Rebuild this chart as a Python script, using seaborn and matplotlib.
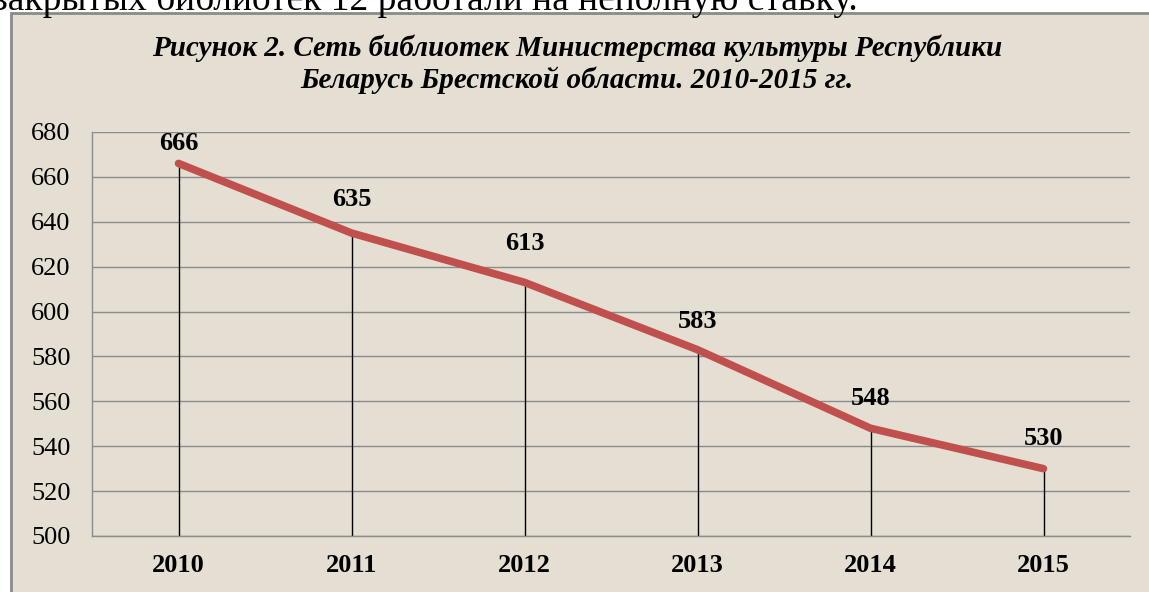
import numpy as np
import pandas as pd
import matplotlib
matplotlib.use("Agg")
import matplotlib.pyplot as plt
import seaborn as sns
from matplotlib.patches import Rectangle

# данные
years = ["2010", "2011", "2012", "2013", "2014", "2015"]
libraries = [666, 635, 613, 583, 548, 530]

title = ("Рисунок 2. Сеть библиотек Министерства культуры Республики\n"
         "Беларусь Брестской области. 2010-2015 гг.")
top_text = "закрытых библиотек 12 работали на неполную ставку."

sns.set_style("white")
plt.rcParams["font.family"] = ["Liberation Serif", "DejaVu Serif"]
plt.rcParams["text.color"] = "black"
plt.rcParams["xtick.color"] = "black"
plt.rcParams["ytick.color"] = "black"

bg = "#E5DFD3"
grid_c = "#8C8C8C"
line_c = "#C0504D"

df = pd.DataFrame({"year": years, "value": libraries})
df["pos"] = np.arange(len(df))

fig = plt.figure(figsize=(11.49, 5.92), dpi=100, facecolor="white")

# рамка диаграммы
frame = Rectangle((11 / 1149, -0.05), 1.1, 1 - 13 / 592 + 0.05,
                  transform=fig.transFigure, facecolor=bg,
                  edgecolor="#8A8A8A", linewidth=2, zorder=-5)
fig.patches.append(frame)

# обрезанная строка текста сверху
fig.text(-0.006, 1 - 10 / 592, top_text, fontsize=27, ha="left",
         va="baseline", color="black")

ax = fig.add_axes([92 / 1149, 1 - 536 / 592, (1130 - 92) / 1149, (536 - 132) / 592])
ax.set_facecolor(bg)

ax.vlines(df["pos"], 500, df["value"], color="black", linewidth=1, zorder=2)
sns.lineplot(data=df, x="pos", y="value", ax=ax, color=line_c, linewidth=5.5,
             solid_capstyle="round", solid_joinstyle="round", zorder=3)

offsets = [20, 33, 39, 28, 30, 30]
for i, (x, v) in enumerate(zip(df["pos"], df["value"])):
    ax.annotate(str(v), (x, v), xytext=(0, offsets[i] * 0.72),
                textcoords="offset points", ha="center", va="center",
                fontsize=19, fontweight="bold", color="black")

ax.set_xlim(-0.5, len(years) - 0.5)
ax.set_ylim(500, 680)
ax.set_yticks(np.arange(500, 681, 20))
ax.set_xticks(df["pos"])
ax.set_xticklabels(years, fontweight="bold", fontsize=19)
ax.set_xticks(np.arange(-0.5, len(years), 1), minor=True)
ax.tick_params(axis="x", which="major", length=0, pad=13)
ax.tick_params(axis="x", which="minor", length=6.5, width=1, color=grid_c, direction="out")
ax.tick_params(axis="y", length=6.5, width=1, color=grid_c, labelcolor="black",
               direction="out", labelsize=19, pad=9)
ax.yaxis.grid(True, color=grid_c, linewidth=1)
ax.set_axisbelow(True)
ax.set_xlabel("")
ax.set_ylabel("")
for s in ["top", "right"]:
    ax.spines[s].set_visible(False)
for s in ["left", "bottom"]:
    ax.spines[s].set_color(grid_c)
    ax.spines[s].set_linewidth(1)

fig.text(577 / 1149, 1 - 64 / 592, title, ha="center", va="center",
         fontsize=21, fontweight="bold", fontstyle="italic", linespacing=1.2,
         color="black")

fig.savefig("out.png", dpi=100, facecolor="white")
